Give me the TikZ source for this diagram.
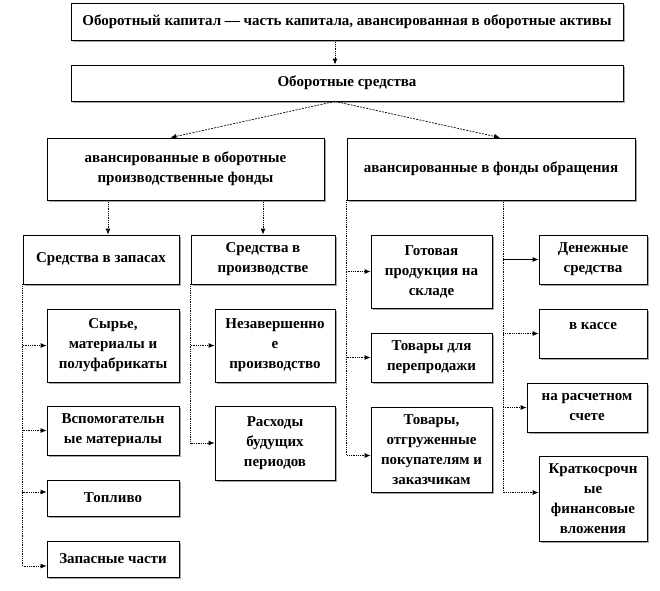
\documentclass[tikz,border=0pt]{standalone}
\usepackage{fontspec}
\setmainfont{Liberation Serif}
\usetikzlibrary{arrows.meta, shadows}

\begin{document}
\begin{tikzpicture}[
        x=1pt, y=-1pt,
        font=\fontsize{15}{20}\selectfont\bfseries,
        box/.style n args={2}{draw, line width=0.8pt, fill=white,
            minimum width=#1, minimum height=#2, inner sep=2pt, align=center,
            drop shadow={shadow xshift=1.5pt, shadow yshift=-1.5pt,
                fill=gray!70, opacity=1}},
        conn/.style={-{Latex[length=6pt, width=5pt]}, line width=0.8pt, densely dotted},
        diag/.style={-{Latex[length=6pt, width=5pt]}, line width=0.7pt,
            dash pattern=on 2pt off 1.2pt},
        arr/.style={-{Latex[length=6pt, width=5pt]}, line width=0.8pt},
    ]
    \useasboundingbox (0,0) rectangle (660,590);

    % =============================================
    % VERKHNIJ UROVEN'
    % =============================================
    \node[box={552pt}{37pt}] (kapital) at (347, 21.5)
        {Оборотный капитал — часть капитала, авансированная в оборотные активы};
    \node[box={552pt}{36pt}] (sredstva) at (347, 83) {Оборотные средства};

    \node[box={277pt}{62pt}] (prfond) at (185.5, 169)
        {авансированные в оборотные\\производственные фонды};
    \node[box={288pt}{62pt}] (obrash) at (491, 169)
        {авансированные в фонды обращения};

    \draw[conn] ([xshift=-12pt]kapital.south) -- ([xshift=-12pt]sredstva.north);
    \draw[diag] ([xshift=-12pt]sredstva.south) -- ([xshift=-15pt]prfond.north);
    \draw[diag] ([xshift=-12pt]sredstva.south) -- ([xshift=9pt]obrash.north);

    % =============================================
    % PROIZVODSTVENNYE FONDY
    % =============================================
    \node[box={156pt}{49pt}] (zapasy) at (101, 259.5) {Средства в запасах};
    \node[box={144pt}{49pt}] (proizv) at (263, 259.5) {Средства в\\производстве};

    \node[box={132pt}{73pt}] (syrie) at (113, 345.5)
        {Сырье,\\материалы и\\полуфабрикаты};
    \node[box={132pt}{49pt}] (vspom) at (113, 430.5)
        {Вспомогательн\\ые материалы};
    \node[box={132pt}{36pt}] (toplivo) at (113, 498) {Топливо};
    \node[box={132pt}{36pt}] (zapchast) at (113, 559) {Запасные части};

    \node[box={120pt}{73pt}] (nezav) at (275, 345.5)
        {Незавершенно\\е\\производство};
    \node[box={120pt}{74pt}] (rashod) at (275, 443)
        {Расходы\\будущих\\периодов};

    \coordinate (zapTop) at ([xshift=7pt]zapasy.north);
    \draw[conn] (prfond.south -| zapTop) -- (zapTop);
    \draw[conn] (prfond.south -| proizv.north) -- (proizv.north);

    \draw[conn] (zapasy.south west) |- (syrie.west);
    \draw[conn] (zapasy.south west) |- (vspom.west);
    \draw[conn] (zapasy.south west) |- ([yshift=6pt]toplivo.west);
    \draw[conn] (zapasy.south west) |- ([yshift=-7pt]zapchast.west);

    \draw[conn] (proizv.south west) |- (nezav.west);
    \draw[conn] (proizv.south west) |- (rashod.west);

    % =============================================
    % FONDY OBRASHCHENIJA
    % =============================================
    \node[box={121pt}{73pt}] (gotov) at (431.5, 271.5)
        {Готовая\\продукция на\\складе};
    \node[box={121pt}{49pt}] (tovpere) at (431.5, 357.5)
        {Товары для\\перепродажи};
    \node[box={121pt}{85pt}] (tovotgr) at (431.5, 449.5)
        {Товары,\\отгруженные\\покупателям и\\заказчикам};

    \node[box={108pt}{49pt}] (dengi) at (593, 259.5) {Денежные\\средства};
    \node[box={108pt}{49pt}, align=none, text depth=15pt] (kassa) at (593, 333.5) {в кассе};
    \node[box={120pt}{49pt}] (raschet) at (587, 407.5) {на расчетном\\счете};
    \node[box={108pt}{85pt}] (kratko) at (593, 498.5)
        {Краткосрочн\\ые\\финансовые\\вложения};

    \draw[conn] (obrash.south west) |- (gotov.west);
    \draw[conn] (obrash.south west) |- (tovpere.west);
    \draw[conn] (obrash.south west) |- ([yshift=-6pt]tovotgr.west);

    \coordinate (obrFork) at ([xshift=12pt]obrash.south);
    \draw[arr]  (obrFork |- dengi.west) -- (dengi.west);
    \draw[conn] (obrFork) |- (kassa.west);
    \draw[conn] (obrFork) |- (raschet.west);
    \draw[conn] (obrFork) |- ([yshift=6pt]kratko.west);

\end{tikzpicture}
\end{document}
